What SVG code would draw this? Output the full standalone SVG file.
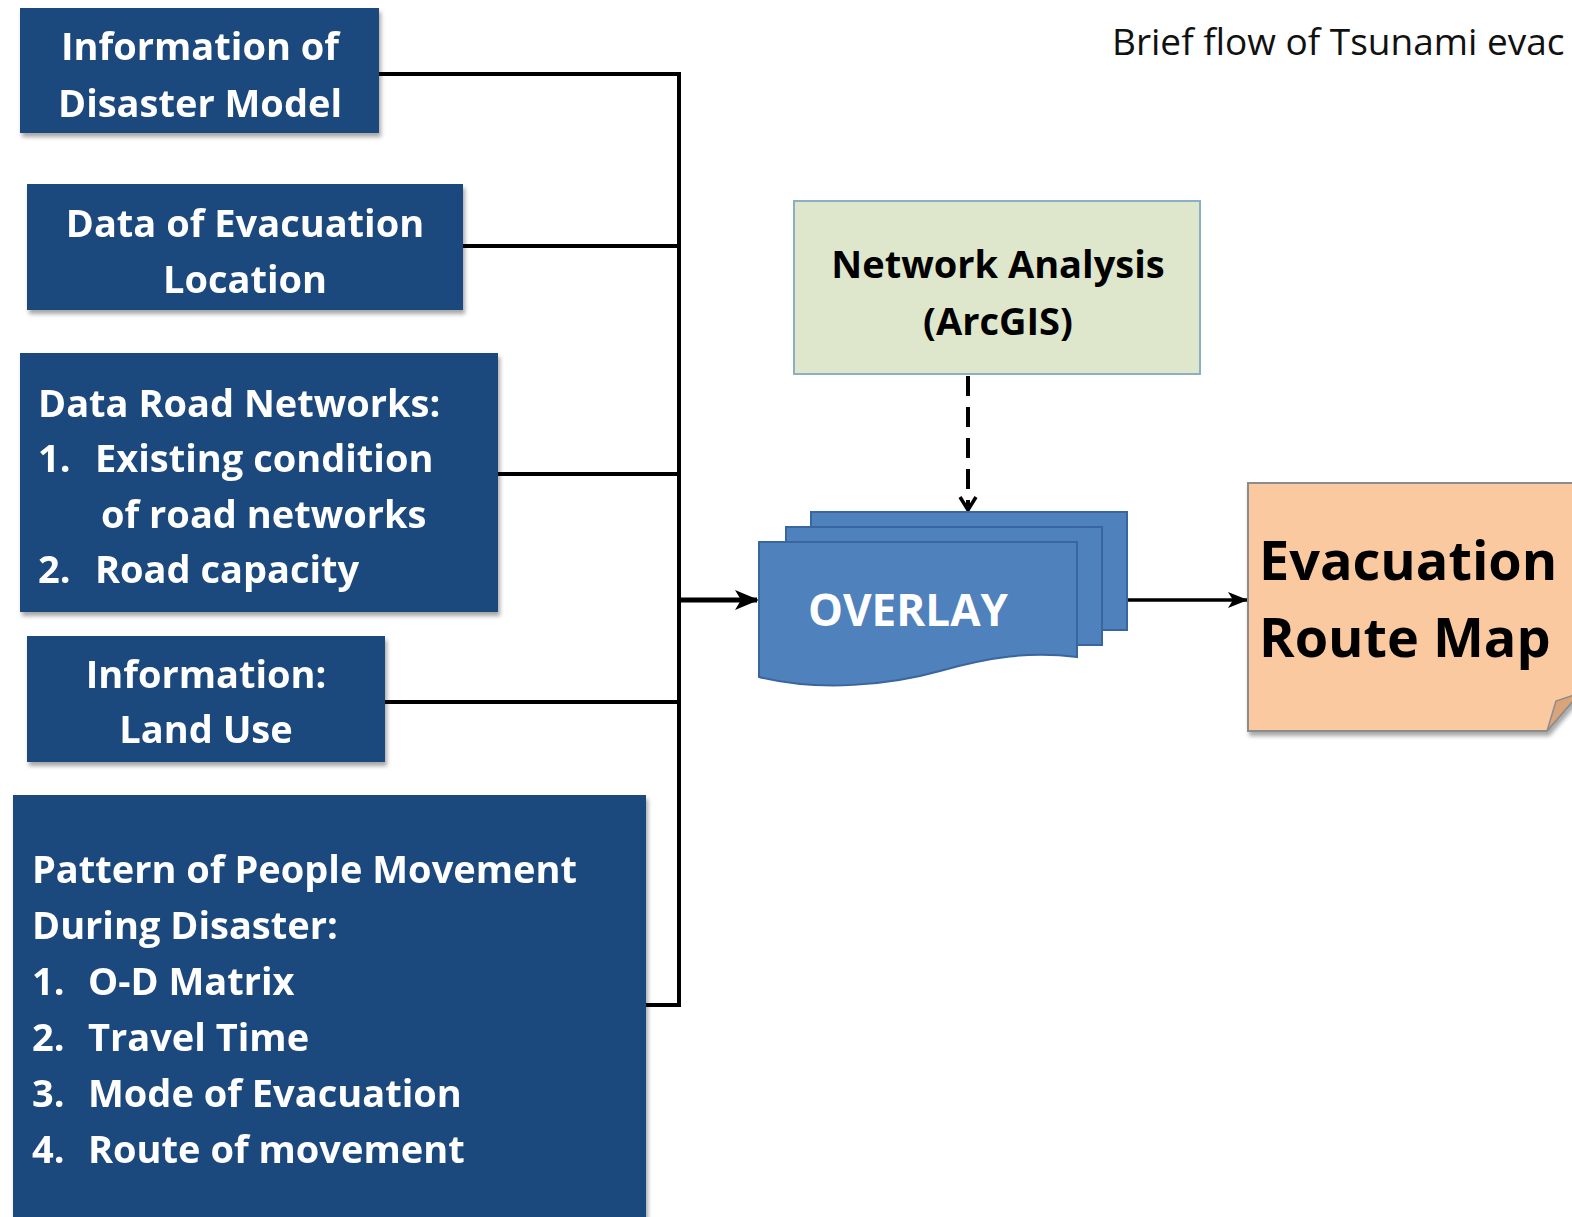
<svg xmlns="http://www.w3.org/2000/svg" width="1572" height="1217" viewBox="0 0 1572 1217">
  <style>
    .src { fill: #1F497D; }
    .lbl { font-family: "Open Sans", "Liberation Sans", sans-serif; font-weight: 700; font-size: 38px; fill: #ffffff; }
    .mid { text-anchor: middle; }
    .dark { fill: #000000; }
    .big { font-size: 54px; }
    .wire { fill: none; stroke: #000000; stroke-width: 4; }
  </style>
  <defs>
    <filter id="shadow" x="-5%" y="-5%" width="112%" height="120%">
      <feDropShadow dx="2" dy="4" stdDeviation="2" flood-color="#000000" flood-opacity="0.35"/>
    </filter>
    <marker id="headBig" markerWidth="24" markerHeight="20" refX="22" refY="10" orient="auto" markerUnits="userSpaceOnUse" viewBox="0 0 24 20">
      <path d="M0,0 L24,10 L0,20 L6,10 Z" fill="#000000"/>
    </marker>
    <marker id="headMid" markerWidth="20" markerHeight="16" refX="19" refY="8" orient="auto" markerUnits="userSpaceOnUse" viewBox="0 0 20 16">
      <path d="M0,0 L20,8 L0,16 L5,8 Z" fill="#000000"/>
    </marker>
    <marker id="chevron" markerWidth="20" markerHeight="20" refX="17" refY="10" orient="auto" markerUnits="userSpaceOnUse" viewBox="0 0 20 20">
      <path d="M4,2 L17,10 L4,18" fill="none" stroke="#000000" stroke-width="3.5"/>
    </marker>
  </defs>

  <rect width="1572" height="1217" fill="#ffffff"/>

  <!-- title -->
  <text x="1112" y="55" font-family="'Open Sans', 'Liberation Sans', sans-serif" font-size="37" fill="#111111">Brief flow of Tsunami evac</text>

  <!-- connectors -->
  <g id="connectors">
    <path class="wire" d="M379,74 H679 V1005 H646"/>
    <path class="wire" d="M463,246 H679"/>
    <path class="wire" d="M498,474 H679"/>
    <path class="wire" d="M385,702 H679"/>
    <path class="wire" d="M679,600 H757" style="stroke-width:5" marker-end="url(#headBig)"/>
    <path class="wire" d="M968,376 V510" stroke-dasharray="20,11" marker-end="url(#chevron)"/>
    <path class="wire" d="M1128,600 H1247" style="stroke-width:3.5" marker-end="url(#headMid)"/>
  </g>

  <!-- input data boxes -->
  <g id="disaster-model" filter="url(#shadow)">
    <rect class="src" x="20" y="8" width="359" height="125"/>
    <text class="lbl mid" x="200" y="60">Information of</text>
    <text class="lbl mid" x="200" y="117">Disaster Model</text>
  </g>

  <g id="evacuation-location" filter="url(#shadow)">
    <rect class="src" x="27" y="184" width="436" height="126"/>
    <text class="lbl mid" x="245" y="237">Data of Evacuation</text>
    <text class="lbl mid" x="245" y="293">Location</text>
  </g>

  <g id="road-networks" filter="url(#shadow)">
    <rect class="src" x="20" y="353" width="478" height="259"/>
    <text class="lbl" x="38" y="417">Data Road Networks:</text>
    <text class="lbl" x="38" y="472">1.</text>
    <text class="lbl" x="95" y="472">Existing condition</text>
    <text class="lbl" x="101" y="528">of road networks</text>
    <text class="lbl" x="38" y="583">2.</text>
    <text class="lbl" x="95" y="583">Road capacity</text>
  </g>

  <g id="land-use" filter="url(#shadow)">
    <rect class="src" x="27" y="636" width="358" height="126"/>
    <text class="lbl mid" x="206" y="688">Information:</text>
    <text class="lbl mid" x="206" y="743">Land Use</text>
  </g>

  <g id="people-movement" filter="url(#shadow)">
    <rect class="src" x="13" y="795" width="633" height="430"/>
    <text class="lbl" x="32" y="883">Pattern of People Movement</text>
    <text class="lbl" x="32" y="939">During Disaster:</text>
    <text class="lbl" x="32" y="995">1.</text>
    <text class="lbl" x="88" y="995">O-D Matrix</text>
    <text class="lbl" x="32" y="1051">2.</text>
    <text class="lbl" x="88" y="1051">Travel Time</text>
    <text class="lbl" x="32" y="1107">3.</text>
    <text class="lbl" x="88" y="1107">Mode of Evacuation</text>
    <text class="lbl" x="32" y="1163">4.</text>
    <text class="lbl" x="88" y="1163">Route of movement</text>
  </g>

  <!-- analysis tool -->
  <g id="network-analysis">
    <rect x="794" y="201" width="406" height="173" fill="#DEE7CB" stroke="#8EAEC4" stroke-width="2"/>
    <text class="lbl mid dark" x="998" y="278">Network Analysis</text>
    <text class="lbl mid dark" x="998" y="335">(ArcGIS)</text>
  </g>

  <!-- overlay: stacked documents -->
  <g id="overlay" fill="#4F81BD" stroke="#3A66A0" stroke-width="2">
    <rect x="811" y="512" width="316" height="118"/>
    <rect x="786" y="527" width="316" height="118"/>
    <path d="M759,542 H1077 V657 C1030,651 990,657 940,671 C890,685 820,692 759,677 Z"/>
    <text class="lbl" x="808" y="626" style="font-size:44px" stroke="none">OVERLAY</text>
  </g>

  <!-- result: folded-corner note -->
  <g id="route-map" filter="url(#shadow)">
    <path d="M1248,483 H1580 V693 L1547,731 H1248 Z" fill="#FAC9A0" stroke="#8C8C8C" stroke-width="2"/>
    <path d="M1547,731 L1556,701 L1580,693 Z" fill="#D9A47A" stroke="#8C8C8C" stroke-width="1.5"/>
    <text class="lbl dark big" x="1259" y="580">Evacuation</text>
    <text class="lbl dark big" x="1259" y="657">Route Map</text>
  </g>
</svg>
